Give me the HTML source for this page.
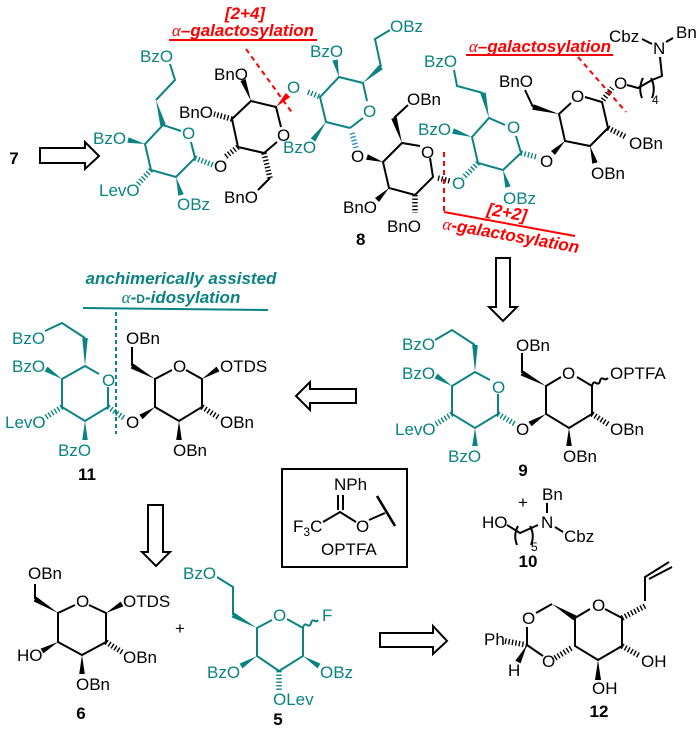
<!DOCTYPE html>
<html><head><meta charset="utf-8"><style>
html,body{margin:0;padding:0;background:#fff}
svg{display:block}
text{font-family:"Liberation Sans",sans-serif;font-size:17px}
.k line,.k polyline,.k path{stroke:#000;fill:none}
.t line,.t polyline,.t path{stroke:#0b8383;fill:none}
.k polygon{fill:#000}.k text{fill:#000}
.t polygon{fill:#0b8383}.t text{fill:#0b8383}
.k,.t{stroke-width:2}
polygon,text{stroke:none}
.h{stroke-width:5.5!important;stroke-dasharray:1.4 2.1}
.b{font-weight:bold}
.r{font-weight:bold;font-style:italic;fill:#f00}
.a{font-family:"Liberation Serif",serif;font-style:italic;font-weight:normal}
.ar{fill:#fff;stroke:#000;stroke-width:2}
.rd{stroke:#f00;stroke-width:2;stroke-dasharray:5 4;fill:none}
</style></head><body>
<svg width="700" height="730" viewBox="0 0 700 730" xmlns="http://www.w3.org/2000/svg">
<rect width="700" height="730" fill="#fff"/>

<!-- arrows -->
<polygon class="ar" points="40,148 85,148 85,142 99,156 85,169 85,163 40,163"/>
<polygon class="ar" points="496,258 510,258 510,307 517,307 503,321 489,307 496,307"/>
<polygon class="ar" points="356,389 310,389 310,382 296,396 310,410 310,403 356,403"/>
<polygon class="ar" points="148,505 163,505 163,552 170,552 156,566 142,552 148,552"/>
<polygon class="ar" points="380,633 433,633 433,626 447,641 433,654 433,647 380,647"/>

<!-- compound 8 / 7 left teal sugar -->
<g class="t">
<polyline points="170,64 175,80 156,100"/>
<polygon points="156,100 160.3,125.8 165.7,124.2"/>
<polyline points="181,131 163,125 145,144 151,170 176,177 195,158 191,142"/>
<polygon points="145,144 128.6,137.3 127.4,142.7"/>
<polygon points="176,177 178.3,195.8 183.7,194.2"/>
<line class="h" x1="151" y1="170" x2="138" y2="184"/>
<line class="h" x1="195" y1="158" x2="213" y2="165"/>
<text x="140" y="62">BzO</text>
<text x="93" y="144">BzO</text>
<text x="99" y="196">LevO</text>
<text x="177" y="210">OBz</text>
<text x="182" y="139">O</text>
</g>
<!-- black sugar 2 -->
<g class="k">
<line class="h" x1="238" y1="147" x2="225" y2="157"/>
<polyline points="277,142 264,153 238,147 232,119 251,101 276,107 281,127"/>
<polygon points="251,101 245.6,79 240.4,81"/>
<line class="h" x1="232" y1="119" x2="214" y2="114"/>
<line class="h" x1="264" y1="153" x2="270" y2="178"/>
<line x1="270" y1="178" x2="258" y2="190"/>
<text x="214" y="80">BnO</text>
<text x="179" y="118">BnO</text>
<text x="224" y="203">BnO</text>
<text x="214" y="172">O</text>
<text x="277" y="141">O</text>
</g>
<polygon points="276,107 290.1,97.1 285.9,92.9" fill="#f00"/>
<!-- teal sugar 3 -->
<g class="t">
<text x="287" y="93">O</text>
<line class="h" x1="308" y1="92" x2="320" y2="97"/>
<polyline points="350,128 326,122 320,97 339,77 363,83 367,101"/>
<line x1="363" y1="118" x2="350" y2="128"/>
<polygon points="339,77 337.7,59.35 332.3,60.65"/>
<polygon points="326,122 310.7,138.4 315.3,141.6"/>
<polygon points="363,83 382.9,69.1 379.1,64.9"/>
<polyline points="381,67 375,39 390,30"/>
<text x="310" y="57">BzO</text>
<text x="283" y="153">BzO</text>
<text x="390" y="32">OBz</text>
<text x="363" y="117">O</text>
</g>
<line x1="352" y1="133" x2="356" y2="148" stroke="#2a8fd0" stroke-width="5.5" stroke-dasharray="1.4 2.1"/>
<!-- black sugar 4 -->
<g class="k">
<text x="351" y="162">O</text>
<polygon points="383,162 367.8,154.3 366.2,159.7"/>
<polyline points="420,146 402,143 383,162 389,188 415,195 433,177 430,158"/>
<polygon points="402,143 396.7,117.15 391.3,118.85"/>
<line x1="394" y1="118" x2="408" y2="105"/>
<polygon points="389,188 375,198 379,202"/>
<line class="h" x1="415" y1="195" x2="415" y2="213"/>
<line class="h" x1="438" y1="178" x2="450" y2="181"/>
<text x="407" y="105">OBn</text>
<text x="343" y="213">BnO</text>
<text x="387" y="232">BnO</text>
<text x="421" y="158">O</text>
<text x="356" y="245" class="b">8</text>
</g>
<!-- teal sugar 5 -->
<g class="t">
<text x="452" y="189">O</text>
<line class="h" x1="478" y1="163" x2="463" y2="178"/>
<polyline points="505,125 489,118 472,137 478,163 503,170 521,153 516,136"/>
<polygon points="489,118 485.7,92.35 480.3,93.65"/>
<polyline points="483,93 457,86 454,70"/>
<polygon points="472,137 453.8,128.3 452.2,133.7"/>
<polygon points="503,170 505.3,187.8 510.7,186.2"/>
<line class="h" x1="521" y1="153" x2="537" y2="157"/>
<text x="424" y="67">BzO</text>
<text x="418" y="135">BzO</text>
<text x="503" y="204">OBz</text>
<text x="507" y="133">O</text>
</g>
<!-- black sugar 6 -->
<g class="k">
<text x="540" y="167">O</text>
<polygon points="565,141 551,151 555,155"/>
<polyline points="571,103 559,114 565,141 590,146 608,128 602,102 585,97"/>
<polygon points="559,114 533.7,104.3 532.3,109.7"/>
<line x1="533" y1="107" x2="525" y2="90"/>
<line class="h" x1="608" y1="128" x2="626" y2="137"/>
<polygon points="590,146 592.3,163.8 597.7,162.2"/>
<line class="h" x1="603" y1="100" x2="612" y2="88"/>
<text x="571" y="102">O</text>
<text x="499" y="87">BnO</text>
<text x="629" y="149">OBn</text>
<text x="591" y="179">OBn</text>
<text x="614" y="89">O</text>
<polyline points="627,85 638,88 652,80 662,76 660,57"/>
<path d="M643,78 q-5,10 -1,20"/>
<path d="M651,78 q5,10 1,20"/>
<text x="652" y="104" style="font-size:12px">4</text>
<text x="653" y="54">N</text>
<text x="609" y="42">Cbz</text>
<text x="676" y="38">Bn</text>
<line x1="642" y1="39" x2="652" y2="44"/>
<line x1="666" y1="42" x2="673" y2="38"/>
</g>
<text x="14" y="164" class="b" text-anchor="middle">7</text>

<!-- red annotations -->
<text x="245" y="19" class="r" text-anchor="middle">[2+4]</text>
<text x="243" y="36" class="r" text-anchor="middle"><tspan class="a">α</tspan>–galactosylation</text>
<line x1="169" y1="40" x2="317" y2="40" stroke="#f00" stroke-width="2"/>
<line x1="246" y1="49" x2="293" y2="114" class="rd"/>
<text x="540" y="52" class="r" text-anchor="middle"><tspan class="a">α</tspan>–galactosylation</text>
<line x1="466" y1="55" x2="613" y2="55" stroke="#f00" stroke-width="2"/>
<line x1="578" y1="57" x2="626" y2="112" class="rd"/>
<line x1="444" y1="152" x2="444" y2="212" class="rd"/>
<line x1="444" y1="212" x2="575" y2="236" stroke="#f00" stroke-width="2"/>
<text transform="translate(506,218) rotate(10)" class="r" text-anchor="middle">[2+2]</text>
<text transform="translate(510,241) rotate(10)" class="r" text-anchor="middle"><tspan class="a">α</tspan>-galactosylation</text>

<!-- compound 11 -->
<text x="181" y="284" class="b" text-anchor="middle" style="font-style:italic;fill:#0b8383">anchimerically assisted</text>
<text x="181" y="303" class="b" text-anchor="middle" style="font-style:italic;fill:#0b8383"><tspan class="a">α</tspan>-<tspan style="font-style:normal;font-size:12px">D</tspan>-idosylation</text>
<line x1="83" y1="308" x2="268" y2="310" stroke="#0b8383" stroke-width="2"/>
<line x1="116" y1="312" x2="116" y2="434" stroke="#0b8383" stroke-width="2" stroke-dasharray="4 3"/>
<g class="t">
<polyline points="99,374 85,366 62,379 62,407 85,421 108,407 108,387"/>
<polygon points="85,366 82.2,338 87.8,338"/>
<polyline points="85,338 62,323 45,331"/>
<polygon points="62,379 47.5,366.6 44.5,371.4"/>
<line class="h" x1="62" y1="407" x2="46" y2="417"/>
<polygon points="85,421 82.2,440 87.8,440"/>
<line class="h" x1="108" y1="407" x2="124" y2="418"/>
<text x="12" y="344">BzO</text>
<text x="12" y="372">BzO</text>
<text x="5" y="428">LevO</text>
<text x="58" y="456">BzO</text>
<text x="102" y="386">O</text>
</g>
<g class="k">
<text x="126" y="428">O</text>
<polygon points="155,407 139.4,414.7 142.6,419.3"/>
<polyline points="172,370 155,379 155,407 179,421 202,407 202,379 186,370"/>
<polygon points="155,379 133.4,363.6 130.6,368.4"/>
<line x1="132" y1="366" x2="132" y2="347"/>
<polygon points="202,379 219.5,371.4 216.5,366.6"/>
<line class="h" x1="202" y1="407" x2="218" y2="417"/>
<polygon points="179,421 176.2,440 181.8,440"/>
<text x="173" y="372">O</text>
<text x="126" y="344">OBn</text>
<text x="220" y="372">OTDS</text>
<text x="220" y="428">OBn</text>
<text x="173" y="456">OBn</text>
<text x="87" y="480" class="b" text-anchor="middle">11</text>
</g>

<!-- compound 9 -->
<g class="t">
<polyline points="490,380 475,372 452,386 452,414 475,428 498,414 498,394"/>
<polygon points="475,372 472.2,345 477.8,345"/>
<polyline points="475,345 452,330 435,340"/>
<polygon points="452,386 437.5,373.6 434.5,378.4"/>
<line class="h" x1="452" y1="414" x2="436" y2="424"/>
<polygon points="475,428 472.2,446 477.8,446"/>
<line class="h" x1="498" y1="414" x2="515" y2="424"/>
<text x="402" y="350">BzO</text>
<text x="402" y="379">BzO</text>
<text x="395" y="435">LevO</text>
<text x="448" y="462">BzO</text>
<text x="492" y="393">O</text>
</g>
<g class="k">
<text x="516" y="435">O</text>
<polygon points="546,414 528.4,421.7 531.6,426.3"/>
<polyline points="561,377 546,386 546,414 569,428 592,414 592,386 577,377"/>
<polygon points="546,386 523.4,370.6 520.6,375.4"/>
<line x1="522" y1="373" x2="522" y2="353"/>
<path d="M592,386 q1,-5 4,-3 q3,2 4,-2 q1,-4 4,-2 q2,1 4,-1"/>
<line class="h" x1="592" y1="414" x2="608" y2="424"/>
<polygon points="569,428 566.2,446 571.8,446"/>
<text x="562" y="379">O</text>
<text x="516" y="351">OBn</text>
<text x="610" y="379">OPTFA</text>
<text x="610" y="435">OBn</text>
<text x="563" y="462">OBn</text>
<text x="523" y="476" class="b" text-anchor="middle">9</text>
</g>

<!-- OPTFA box -->
<rect x="282" y="469" width="125" height="98" fill="none" stroke="#000" stroke-width="2"/>
<g class="k">
<text x="334" y="490">NPh</text>
<line x1="338" y1="495" x2="338" y2="510"/>
<line x1="343" y1="495" x2="343" y2="510"/>
<polyline points="323,522 340,512 356,522"/>
<text x="293" y="532">F<tspan dy="4" style="font-size:12px">3</tspan><tspan dy="-4">C</tspan></text>
<text x="356" y="532">O</text>
<line x1="369" y1="520" x2="385" y2="513"/>
<line x1="377" y1="496" x2="395" y2="526" style="stroke-width:2.6"/>
<text x="321" y="555">OPTFA</text>
</g>

<!-- compound 10 -->
<g class="k">
<text x="523" y="508" text-anchor="middle">+</text>
<text x="542" y="500">Bn</text>
<text x="541" y="528">N</text>
<text x="482" y="528">HO</text>
<text x="564" y="542">Cbz</text>
<line x1="547" y1="503" x2="547" y2="513"/>
<line x1="555" y1="527" x2="563" y2="532"/>
<polyline points="507,525 520,533 538,525"/>
<path d="M518,526 q-5,9 -1,19"/>
<path d="M530,526 q5,9 1,19"/>
<text x="531" y="551" style="font-size:12px">5</text>
<text x="528" y="567" class="b" text-anchor="middle">10</text>
</g>

<!-- compound 6 -->
<g class="k">
<polyline points="75,605 58,613 58,642 82,655 106,642 106,613 89,605"/>
<polygon points="58,613 36.4,596.6 33.6,601.4"/>
<line x1="35" y1="599" x2="35" y2="584"/>
<polygon points="106,613 123.4,606.4 120.6,601.6"/>
<line class="h" x1="106" y1="642" x2="122" y2="652"/>
<polygon points="82,655 79.2,674 84.8,674"/>
<polygon points="58,642 40.6,648.6 43.4,653.4"/>
<text x="76" y="607">O</text>
<text x="28" y="579">OBn</text>
<text x="123" y="607">OTDS</text>
<text x="123" y="663">OBn</text>
<text x="76" y="690">OBn</text>
<text x="17" y="661">HO</text>
<text x="81" y="719" class="b" text-anchor="middle">6</text>
<text x="180" y="634" text-anchor="middle">+</text>
</g>

<!-- compound 5 -->
<g class="t">
<polyline points="272,620 257,628 257,656 279,671 303,656 303,628 287,619"/>
<polygon points="257,628 234.4,612.6 231.6,617.4"/>
<polyline points="233,615 233,587 217,577"/>
<path d="M303,628 q1,-5 4,-3 q3,2 4,-2 q1,-4 4,-2 q2,1 3,-1"/>
<polygon points="303,656 317.5,668.4 320.5,663.6"/>
<line class="h" x1="279" y1="671" x2="279" y2="691"/>
<polygon points="257,656 239.5,663.6 242.5,668.4"/>
<text x="273" y="621">O</text>
<text x="183" y="579">BzO</text>
<text x="322" y="621">F</text>
<text x="320" y="678">OBz</text>
<text x="273" y="705">OLev</text>
<text x="207" y="678">BzO</text>
</g>
<text x="278" y="725" class="b" text-anchor="middle">5</text>

<!-- compound 12 -->
<g class="k">
<polyline points="590,609 575,618 575,646 598,660 622,646 622,618 605,609"/>
<line class="h" x1="622" y1="618" x2="645" y2="606"/>
<polyline points="645,601 645,577 669,562"/>
<line x1="649" y1="579" x2="672" y2="567"/>
<polygon points="552,604 573.5,620.4 576.5,615.6"/>
<line x1="552" y1="604" x2="536" y2="613"/>
<line x1="527" y1="627" x2="527" y2="645"/>
<line x1="527" y1="645" x2="543" y2="656"/>
<line class="h" x1="555" y1="658" x2="573" y2="647"/>
<line class="h" x1="527" y1="645" x2="505" y2="641"/>
<polygon points="527,645 515.4,660.6 520.6,663.4"/>
<line class="h" x1="622" y1="646" x2="640" y2="656"/>
<polygon points="598,660 595,680 601,680"/>
<text x="592" y="611">O</text>
<text x="522" y="624">O</text>
<text x="542" y="667">O</text>
<text x="484" y="645">Ph</text>
<text x="508" y="676">H</text>
<text x="641" y="667">OH</text>
<text x="592" y="694">OH</text>
<text x="599" y="717" class="b" text-anchor="middle">12</text>
</g>
</svg>
</body></html>
